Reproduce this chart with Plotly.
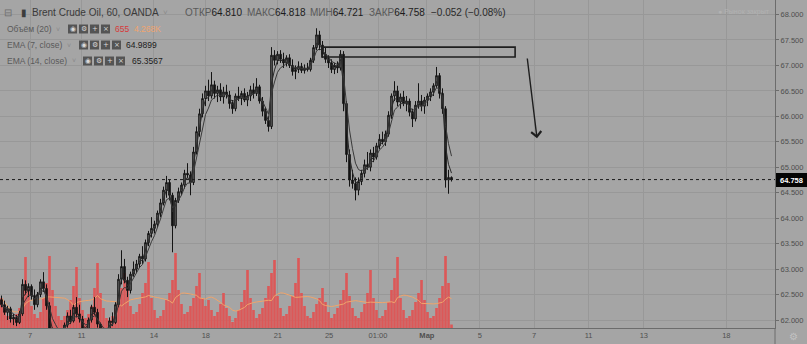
import pandas as pd
import plotly.graph_objects as go

# ---------------- data (Brent Crude Oil, OANDA; each bar here aggregates 3 hourly bars) ----------------
open_ = [
    62.40, 62.30, 62.15, 62.22, 62.02, 62.05, 61.95, 62.12, 62.70, 62.58,
    62.66, 62.48, 62.30, 62.50, 62.75, 62.62, 62.28, 61.82, 61.62, 61.70,
    61.60, 61.75, 61.90, 62.08, 61.98, 62.25, 62.12, 62.02, 61.80, 61.78,
    62.00, 62.25, 62.15, 61.92, 61.75, 61.68, 61.78, 61.98, 61.95, 62.30,
    62.80, 63.05, 62.78, 62.58, 62.90, 63.00, 63.10, 63.25, 63.20, 63.52,
    63.70, 63.80, 63.88, 64.10, 64.30, 64.55, 64.70, 64.45, 63.85, 64.35,
    64.52, 64.65, 64.88, 64.85, 64.70, 65.30, 65.70, 66.05, 66.35, 66.50,
    66.40, 66.62, 66.45, 66.52, 66.38, 66.48, 66.42, 66.25, 66.15, 66.40,
    66.35, 66.45, 66.32, 66.40, 66.52, 66.45, 66.58, 66.30, 66.10, 65.92,
    65.80, 67.20, 67.10, 67.22, 67.12, 67.05, 67.15, 67.00, 66.88, 66.92,
    66.98, 66.90, 66.95, 66.92, 67.10, 67.35, 67.60, 67.40, 67.22, 67.12,
    67.05, 66.92, 67.00, 66.95, 67.22, 66.25, 65.25, 64.75, 64.68, 64.55,
    64.72, 64.88, 65.05, 65.00, 65.28, 65.20, 65.42, 65.55, 65.50, 65.65,
    66.02, 66.40, 66.50, 66.28, 66.38, 66.25, 66.30, 66.08, 65.95, 66.22,
    66.30, 66.20, 66.32, 66.40, 66.48, 66.60, 66.80, 66.45, 66.15, 64.75,
    64.80,
]
high = [
    62.48, 62.38, 62.28, 62.26, 62.12, 62.10, 62.18, 62.80, 62.78, 62.72,
    62.70, 62.60, 62.55, 62.80, 62.94, 62.70, 62.35, 61.85, 61.75, 61.78,
    61.80, 61.95, 62.15, 62.20, 62.30, 62.45, 62.30, 62.08, 61.85, 62.05,
    62.30, 62.45, 62.22, 61.95, 61.80, 61.82, 62.05, 62.15, 62.35, 62.90,
    63.37, 63.20, 62.85, 62.95, 63.15, 63.18, 63.30, 63.45, 63.58, 63.75,
    64.02, 63.95, 64.15, 64.38, 64.62, 64.83, 64.75, 64.50, 64.40, 64.60,
    64.70, 64.95, 65.08, 64.92, 65.40, 65.80, 66.15, 66.45, 66.60, 66.72,
    66.87, 66.70, 66.60, 66.65, 66.58, 66.62, 66.50, 66.32, 66.45, 66.58,
    66.50, 66.55, 66.48, 66.60, 66.65, 66.75, 66.62, 66.38, 66.18, 66.00,
    67.36, 67.30, 67.28, 67.30, 67.25, 67.20, 67.22, 67.12, 67.00, 67.08,
    67.05, 67.02, 67.05, 67.15, 67.40, 67.73, 67.68, 67.48, 67.35, 67.20,
    67.12, 67.05, 67.08, 67.30, 67.28, 66.30, 65.35, 64.95, 64.80, 64.80,
    64.95, 65.15, 65.30, 65.35, 65.40, 65.48, 65.65, 65.70, 65.72, 66.10,
    66.45, 66.69, 66.60, 66.45, 66.50, 66.40, 66.35, 66.15, 66.30, 66.65,
    66.42, 66.38, 66.45, 66.55, 66.65, 66.97, 66.85, 66.55, 66.20, 64.95,
    64.82,
]
low = [
    62.25, 62.10, 62.00, 61.95, 61.90, 61.88, 61.92, 62.08, 62.50, 62.45,
    62.40, 62.20, 62.25, 62.45, 62.55, 62.20, 61.75, 61.55, 61.50, 61.55,
    61.58, 61.70, 61.85, 61.92, 61.95, 62.05, 61.95, 61.75, 61.65, 61.75,
    61.95, 62.10, 61.85, 61.70, 61.60, 61.62, 61.75, 61.88, 61.92, 62.25,
    62.70, 62.72, 62.45, 62.52, 62.85, 62.92, 63.02, 63.10, 63.15, 63.45,
    63.62, 63.70, 63.82, 64.02, 64.25, 64.40, 64.35, 63.33, 63.80, 64.30,
    64.45, 64.58, 64.78, 64.45, 64.65, 65.25, 65.60, 65.98, 66.20, 66.30,
    66.35, 66.35, 66.28, 66.30, 66.25, 66.35, 66.15, 66.05, 66.10, 66.30,
    66.22, 66.28, 66.20, 66.30, 66.35, 66.40, 66.25, 66.00, 65.85, 65.70,
    65.75, 67.00, 67.02, 67.05, 66.95, 66.98, 66.95, 66.80, 66.73, 66.85,
    66.85, 66.84, 66.88, 66.88, 67.05, 67.30, 67.30, 67.15, 67.05, 66.95,
    66.85, 66.83, 66.85, 66.90, 66.10, 65.10, 64.62, 64.58, 64.35, 64.45,
    64.65, 64.80, 64.95, 64.92, 65.10, 65.15, 65.35, 65.45, 65.42, 65.60,
    65.95, 66.30, 66.20, 66.15, 66.20, 66.10, 66.00, 65.79, 65.90, 66.15,
    66.10, 66.05, 66.20, 66.30, 66.40, 66.55, 66.35, 66.05, 64.60, 64.48,
    64.72,
]
close = [
    62.30, 62.15, 62.22, 62.02, 62.05, 61.95, 62.12, 62.70, 62.58, 62.66,
    62.48, 62.30, 62.50, 62.75, 62.62, 62.28, 61.82, 61.62, 61.70, 61.60,
    61.75, 61.90, 62.08, 61.98, 62.25, 62.12, 62.02, 61.80, 61.78, 62.00,
    62.25, 62.15, 61.92, 61.75, 61.68, 61.78, 61.98, 61.95, 62.30, 62.80,
    63.05, 62.78, 62.58, 62.90, 63.00, 63.10, 63.25, 63.20, 63.52, 63.70,
    63.80, 63.88, 64.10, 64.30, 64.55, 64.70, 64.45, 63.85, 64.35, 64.52,
    64.65, 64.88, 64.85, 64.70, 65.30, 65.70, 66.05, 66.35, 66.50, 66.40,
    66.62, 66.45, 66.52, 66.38, 66.48, 66.42, 66.25, 66.15, 66.40, 66.35,
    66.45, 66.32, 66.40, 66.52, 66.45, 66.58, 66.30, 66.10, 65.92, 65.80,
    67.20, 67.10, 67.22, 67.12, 67.05, 67.15, 67.00, 66.88, 66.92, 66.98,
    66.90, 66.95, 66.92, 67.10, 67.35, 67.60, 67.40, 67.22, 67.12, 67.05,
    66.92, 67.00, 66.95, 67.22, 66.25, 65.25, 64.75, 64.68, 64.55, 64.72,
    64.88, 65.05, 65.00, 65.28, 65.20, 65.42, 65.55, 65.50, 65.65, 66.02,
    66.40, 66.50, 66.28, 66.38, 66.25, 66.30, 66.08, 65.95, 66.22, 66.30,
    66.20, 66.32, 66.40, 66.48, 66.60, 66.80, 66.45, 66.15, 64.75, 64.80,
    64.76,
]
# volume, hundreds of contracts
volume = [
    60, 44, 24, 16, 20, 28, 40, 76, 142, 80,
    44, 28, 20, 32, 60, 90, 144, 76, 44, 24,
    16, 24, 36, 56, 84, 122, 60, 36, 20, 28,
    44, 80, 130, 70, 40, 20, 16, 24, 40, 60,
    80, 110, 76, 44, 28, 32, 48, 70, 90, 132,
    60, 36, 20, 24, 36, 56, 70, 96, 150, 76,
    48, 28, 32, 44, 60, 84, 110, 60, 44, 56,
    36, 24, 32, 48, 70, 40, 24, 12, 20, 36,
    52, 76, 116, 60, 36, 20, 28, 40, 60, 84,
    110, 136, 64, 40, 24, 28, 44, 64, 90, 140,
    70, 44, 24, 20, 32, 48, 60, 80, 52, 32,
    20, 28, 40, 56, 76, 110, 64, 40, 24, 20,
    32, 48, 70, 116, 60, 36, 20, 24, 36, 52,
    76, 100, 142, 60, 36, 20, 24, 36, 52, 70,
    96, 56, 32, 20, 24, 40, 60, 84, 144, 90,
    7,
]
bar_index = list(range(len(close)))

# time-axis labels (positions in bar-index units)
tick_positions = [9.5, 26.7, 50.8, 68.1, 92.1, 109.2, 125.5, 141.8, 159.4, 177.5, 195.7, 214.1, 241.6]
tick_labels = ["7", "11", "14", "18", "21", "25", "01:00", "<b>Мар</b>", "5", "7", "11", "13", "18"]
price_ticks = [62.0, 62.5, 63.0, 63.5, 64.0, 64.5, 65.0, 65.5, 66.0, 66.5, 67.0, 67.5, 68.0]
last_price = 64.758

# user drawings (bar index, price)
rect_box = dict(x0=106.8, x1=171.2, y0=67.165, y1=67.36)
arrow_tail = (175.2, 67.165)
arrow_head = (178.5, 65.57)

# ---------------- indicators ----------------
HOURS_PER_BAR = 3
def ema(values, period):
    alpha = 1 - (1 - 2 / (period + 1)) ** HOURS_PER_BAR
    return pd.Series(values).ewm(alpha=alpha, adjust=False).mean().tolist()

ema7 = ema(close, 7)
ema14 = ema(close, 14)
vol_ma = pd.Series(volume).rolling(8, min_periods=1).mean().tolist()

# ---------------- figure ----------------
W, H = 807, 344
FONT = "Liberation Sans, Arial, sans-serif"
BG = "#a5a5a5"
GRID = "#989898"
AXIS = "#6c6c6c"
X_RIGHT = 775 / W
Y_BOTTOM = 16 / H

fig = go.Figure()
fig.add_trace(go.Bar(x=bar_index, y=volume, marker=dict(color="#dc5858", line=dict(width=0)),
                     xaxis="x", yaxis="y", hoverinfo="skip"))
fig.add_trace(go.Scatter(x=bar_index, y=vol_ma, mode="lines", line=dict(color="#f2a46a", width=1),
                         xaxis="x", yaxis="y", hoverinfo="skip"))
fig.add_trace(go.Candlestick(
    x=bar_index, open=open_, high=high, low=low, close=close, xaxis="x", yaxis="y2",
    increasing=dict(line=dict(color="#141414", width=1), fillcolor="#6f6f6f"),
    decreasing=dict(line=dict(color="#141414", width=1), fillcolor="#141414"),
    whiskerwidth=0,
))
fig.add_trace(go.Scatter(x=bar_index, y=ema7, mode="lines", line=dict(color="#2a2a2a", width=1),
                         xaxis="x", yaxis="y2"))
fig.add_trace(go.Scatter(x=bar_index, y=ema14, mode="lines", line=dict(color="#3a3a3a", width=1),
                         xaxis="x", yaxis="y2"))

annotations = []

def label(x, y, text, size=10, color="#333333", anchor="left"):
    annotations.append(dict(x=x / W, y=1 - y / H, xref="paper", yref="paper", text=text,
                            showarrow=False, xanchor=anchor, yanchor="middle", borderpad=0,
                            font=dict(family=FONT, size=size, color=color)))

LBL = "#5a5a5a"
VAL = "#1c1c1c"
# header row 1
label(3, 13, "⊟", 10, "#6e6e6e")
label(20, 13, "▮", 10, "#3c3c3c")
label(31, 13, "Brent Crude Oil, 60, OANDA", 10, "#3a3a3a")
label(162, 13, "˅", 8, "#8a8a8a")
label(184, 13, f"ОТКР<span style='color:{VAL}'>64.810</span>", 10, LBL)
label(246, 13, f"МАКС<span style='color:{VAL}'>64.818</span>", 10, LBL)
label(309, 13, f"МИН<span style='color:{VAL}'>64.721</span>", 10, LBL)
label(368, 13, f"ЗАКР<span style='color:{VAL}'>64.758</span>", 10, LBL)
label(430, 13, "−0.052 (−0.08%)", 10, "#2a2a2a")
label(771, 12, "● Рынок закрыт", 7, "#b2b2b2", anchor="right")

# indicator legend rows
label(6, 29, "Объём (20)", 8.5, LBL)
label(55, 29, "˅", 7, "#8a8a8a")
label(114, 29, "655", 8.5, "#d83a3a")
label(133, 29, "4.268K", 8.5, "#f0a46e")
label(6, 45, "EMA (7, close)", 8.5, LBL)
label(66, 45, "˅", 7, "#8a8a8a")
label(125, 45, "64.9899", 8.5, VAL)
label(6, 61, "EMA (14, close)", 8.5, LBL)
label(71, 61, "˅", 7, "#8a8a8a")
label(131, 61, "65.3567", 8.5, VAL)

shapes = []
icon_rows = [(29, [68, 79, 90, 101]), (45, [79, 90, 101, 112]), (61, [83, 94, 105, 116])]
icon_glyphs = ["◉", "⚙", "+", "×"]
for yc, xs in icon_rows:
    for x0, g in zip(xs, icon_glyphs):
        shapes.append(dict(type="rect", xref="paper", yref="paper", x0=x0 / W, x1=(x0 + 9) / W,
                           y0=1 - (yc + 4.5) / H, y1=1 - (yc - 4.5) / H,
                           fillcolor="#545454", line=dict(width=0), layer="above"))
        annotations.append(dict(x=(x0 + 4.5) / W, y=1 - yc / H, xref="paper", yref="paper", text=g,
                                showarrow=False, xanchor="center", yanchor="middle", borderpad=0,
                                font=dict(family="DejaVu Sans", size=7, color="#d8d8d8")))

# last price line and label
shapes.append(dict(type="line", xref="paper", yref="y2", x0=0, x1=X_RIGHT, y0=last_price, y1=last_price,
                   line=dict(color="#1a1a1a", width=1, dash="dot"), layer="above"))
annotations.append(dict(x=776 / W, y=last_price, xref="paper", yref="y2", text="<b>64.758</b>",
                        showarrow=False, xanchor="left", yanchor="middle", bgcolor="#050505",
                        borderpad=1, borderwidth=0, width=29, height=12,
                        font=dict(family=FONT, size=7.5, color="#ffffff")))

# drawings
shapes.append(dict(type="rect", xref="x", yref="y2", line=dict(color="#1e1e1e", width=1.6),
                   fillcolor="rgba(0,0,0,0)", layer="above", **rect_box))
annotations.append(dict(x=arrow_head[0], y=arrow_head[1], ax=arrow_tail[0], ay=arrow_tail[1],
                        xref="x", yref="y2", axref="x", ayref="y2", showarrow=True, text="",
                        arrowhead=4, arrowsize=1.4, arrowwidth=1.4, arrowcolor="#1e1e1e"))

# axis separator below the price scale and gear
shapes.append(dict(type="line", xref="paper", yref="paper", x0=X_RIGHT, x1=X_RIGHT, y0=0, y1=Y_BOTTOM,
                   line=dict(color=AXIS, width=1)))
label(793, 336, "⚙", 10, "#c2c2c2", anchor="center")

fig.update_layout(
    width=W, height=H, margin=dict(l=0, r=0, t=0, b=0),
    paper_bgcolor=BG, plot_bgcolor=BG, showlegend=False, bargap=0.12, boxgap=0.25,
    font=dict(family=FONT),
    xaxis=dict(domain=[0, X_RIGHT], range=[-0.5, 257.83], tickvals=tick_positions, ticktext=tick_labels,
               showgrid=True, gridcolor=GRID, gridwidth=1, zeroline=False, showline=True,
               linecolor=AXIS, linewidth=1, ticks="", tickfont=dict(size=7.5, color="#505050"),
               rangeslider=dict(visible=False), fixedrange=True),
    yaxis=dict(domain=[Y_BOTTOM, 1], range=[0, 656], visible=False, showgrid=False, fixedrange=True),
    yaxis2=dict(overlaying="y", side="right", anchor="x", range=[61.843, 68.285],
                tickvals=price_ticks, tickformat=".3f", showgrid=True, gridcolor=GRID, gridwidth=1,
                zeroline=False, showline=True, linecolor=AXIS, linewidth=1, ticks="outside",
                ticklen=3, tickcolor=AXIS, tickfont=dict(size=7.5, color="#4e4e4e"), fixedrange=True),
    annotations=annotations, shapes=shapes,
)

fig.write_html("out.html")
